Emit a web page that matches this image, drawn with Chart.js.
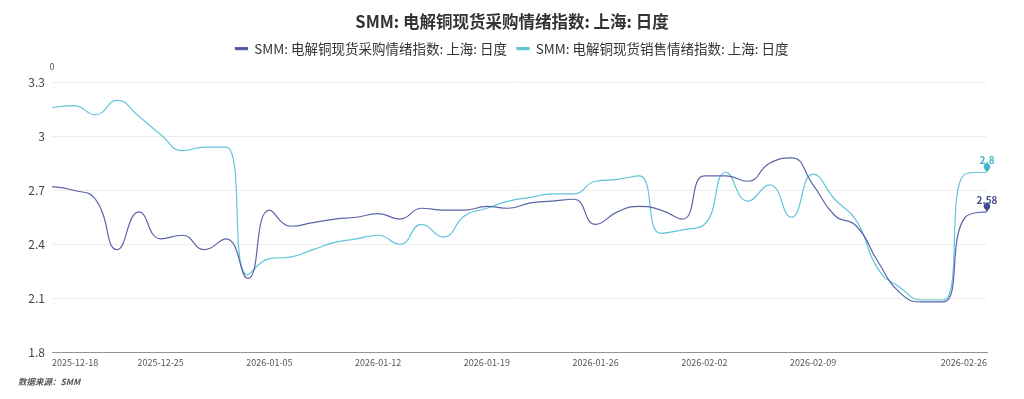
<!DOCTYPE html>
<html>
<head>
<meta charset="utf-8">
<script src="https://cdn.jsdelivr.net/npm/chart.js@4.4.1/dist/chart.umd.min.js"></script>
<style>
  html, body { margin: 0; padding: 0; background: #ffffff; }
  #wrap { width: 1024px; height: 399px; position: relative; }
</style>
</head>
<body>
<div id="wrap"><canvas id="c" width="1024" height="399"></canvas></div>
<script>
const titleText = 'SMM: 电解铜现货采购情绪指数: 上海: 日度';
const seriesNames = ['SMM: 电解铜现货采购情绪指数: 上海: 日度', 'SMM: 电解铜现货销售情绪指数: 上海: 日度'];
const sourceText = '数据来源：SMM';
const yAxisName = '0';

const categories = ['2025-12-18','2025-12-19','2025-12-22','2025-12-23','2025-12-24','2025-12-25','2025-12-26','2025-12-29','2025-12-30','2025-12-31',
  '2026-01-05','2026-01-06','2026-01-07','2026-01-08','2026-01-09','2026-01-12','2026-01-13','2026-01-14','2026-01-15','2026-01-16',
  '2026-01-19','2026-01-20','2026-01-21','2026-01-22','2026-01-23','2026-01-26','2026-01-27','2026-01-28','2026-01-29','2026-01-30',
  '2026-02-02','2026-02-03','2026-02-04','2026-02-05','2026-02-06','2026-02-09','2026-02-10','2026-02-11','2026-02-12','2026-02-13',
  '2026-02-14','2026-02-24','2026-02-25','2026-02-26'];

const purchase = [2.72,2.70,2.65,2.37,2.58,2.43,2.45,2.37,2.43,2.21,
  2.59,2.50,2.52,2.54,2.55,2.57,2.54,2.60,2.59,2.59,
  2.61,2.60,2.63,2.64,2.65,2.51,2.58,2.61,2.59,2.54,
  2.78,2.78,2.75,2.85,2.88,2.73,2.56,2.50,2.30,2.13,
  2.08,2.08,2.55,2.58];

const sales = [3.16,3.17,3.12,3.20,3.11,3.01,2.92,2.94,2.94,2.23,
  2.32,2.33,2.37,2.41,2.43,2.45,2.40,2.51,2.44,2.56,
  2.60,2.64,2.66,2.68,2.68,2.75,2.76,2.78,2.46,2.48,
  2.51,2.80,2.64,2.73,2.55,2.79,2.65,2.53,2.26,2.16,
  2.09,2.09,2.79,2.80];

const shownTickIndexes = [0,5,10,15,20,25,30,35,43];
const yTicks = [1.8, 2.1, 2.4, 2.7, 3.0, 3.3];

const purchaseColor = '#5d64aa';
const salesColor = '#62c5da';
const purchasePinColor = '#414c92';
const salesPinColor = '#3fb4cc';

const FONT = '"Noto Sans CJK SC", "Noto Sans", sans-serif';
const SMOOTH = 0.5;

function clamp(v, a, b) { return Math.min(Math.max(v, Math.min(a, b)), Math.max(a, b)); }

const extrasPlugin = {
  id: 'extras',
  beforeInit(chart) {
    const lg = chart.legend;
    if (lg) {
      const origFit = lg.fit;
      lg.fit = function () { origFit.call(this); this.height += 17; };
    }
  },
  beforeDatasetDraw(chart, args) {
    // smoothing with control points constrained between neighbours (no overshoot)
    const meta = args.meta;
    const line = meta.dataset;
    if (!line) return;
    line.updateControlPoints(chart.chartArea, 'x');
    const pts = meta.data;
    const n = pts.length;
    for (let i = 0; i < n; i++) {
      const p = pts[i];
      const x = p.x, y = p.y;
      if (i === 0 || i === n - 1) {
        p.cp1x = x; p.cp1y = y; p.cp2x = x; p.cp2y = y;
        continue;
      }
      const pr = pts[i - 1], nx = pts[i + 1];
      let vx = nx.x - pr.x, vy = nx.y - pr.y;
      const lenPrev = Math.hypot(x - pr.x, y - pr.y);
      const lenNext = Math.hypot(nx.x - x, nx.y - y);
      if (lenPrev < 1e-6 || lenNext < 1e-6) {
        p.cp1x = x; p.cp1y = y; p.cp2x = x; p.cp2y = y;
        continue;
      }
      const ratioNext = lenNext / (lenNext + lenPrev);
      let ncx = x + vx * SMOOTH * ratioNext;
      let ncy = y + vy * SMOOTH * ratioNext;
      ncx = clamp(ncx, x, nx.x);
      ncy = clamp(ncy, y, nx.y);
      vx = ncx - x; vy = ncy - y;
      let c1x = x - vx * lenPrev / lenNext;
      let c1y = y - vy * lenPrev / lenNext;
      c1x = clamp(c1x, pr.x, x);
      c1y = clamp(c1y, pr.y, y);
      vx = x - c1x; vy = y - c1y;
      ncx = x + vx * lenNext / lenPrev;
      ncy = y + vy * lenNext / lenPrev;
      p.cp1x = c1x; p.cp1y = c1y;
      p.cp2x = ncx; p.cp2y = ncy;
    }
    delete line._path;
  },
  afterDatasetsDraw(chart) {
    const ctx = chart.ctx;
    const area = chart.chartArea;
    ctx.save();
    const cfgs = [
      { ds: 0, pin: purchasePinColor, data: purchase },
      { ds: 1, pin: salesPinColor, data: sales }
    ];
    cfgs.forEach(c => {
      const meta = chart.getDatasetMeta(c.ds);
      const last = meta.data[meta.data.length - 1];
      const x = last.x, y = last.y;
      const cy = y - 5.5;
      ctx.fillStyle = c.pin;
      ctx.beginPath();
      ctx.arc(x, cy, 3.3, Math.PI * 0.8, Math.PI * 2.2);
      ctx.lineTo(x, y);
      ctx.closePath();
      ctx.fill();
      ctx.font = 'bold 10px ' + FONT;
      ctx.fillStyle = c.pin;
      ctx.textAlign = 'center';
      ctx.textBaseline = 'middle';
      const v = c.data[c.data.length - 1];
      ctx.fillText(String(v), x, y - 12);
    });
    ctx.font = '9px ' + FONT;
    ctx.fillStyle = '#555';
    ctx.textAlign = 'center';
    ctx.textBaseline = 'middle';
    ctx.fillText(yAxisName, area.left, 67);
    ctx.font = 'italic bold 8.5px ' + FONT;
    ctx.fillStyle = '#555';
    ctx.textAlign = 'left';
    ctx.textBaseline = 'middle';
    ctx.fillText(sourceText, 18, 382);
    ctx.restore();
  }
};

new Chart(document.getElementById('c'), {
  type: 'line',
  data: {
    labels: categories,
    datasets: [
      { label: seriesNames[0], data: purchase, borderColor: purchaseColor, backgroundColor: purchasePinColor,
        borderWidth: 1.2, pointRadius: 0, pointHoverRadius: 0, tension: 0.4, fill: false, yAxisID: 'y' },
      { label: seriesNames[1], data: sales, borderColor: salesColor, backgroundColor: salesColor,
        borderWidth: 1.2, pointRadius: 0, pointHoverRadius: 0, tension: 0.4, fill: false, yAxisID: 'y' }
    ]
  },
  options: {
    responsive: false,
    animation: false,
    layout: { padding: { left: 0, right: 0, top: 0, bottom: 26 } },
    plugins: {
      tooltip: { enabled: false },
      title: {
        display: true, text: titleText, color: '#333333',
        font: { family: FONT, size: 16.5, weight: 'bold' },
        padding: { top: 12, bottom: 0 }
      },
      legend: {
        display: true, position: 'top',
        labels: {
          color: '#333333', font: { family: FONT, size: 13.5 },
          boxWidth: 12, boxHeight: 2, padding: 10
        }
      }
    },
    scales: {
      x: {
        type: 'category',
        offset: false,
        grid: { display: false, drawTicks: false },
        border: { display: true, color: '#8f949c', width: 1 },
        ticks: {
          autoSkip: false, maxRotation: 0, minRotation: 0, align: 'inner', padding: 5,
          color: '#555555', font: { family: FONT, size: 9 },
          callback: function (value, index) {
            return shownTickIndexes.includes(index) ? categories[index] : '';
          }
        }
      },
      y: {
        position: 'left',
        min: yTicks[0], max: yTicks[yTicks.length - 1],
        afterFit: s => { s.width = 52; },
        afterBuildTicks: s => { s.ticks = yTicks.map(v => ({ value: v })); },
        grid: { color: '#eeeeee', lineWidth: 1, drawTicks: false },
        border: { display: false },
        ticks: {
          padding: 7, color: '#444444', font: { family: FONT, size: 12 },
          callback: v => String(Number(Number(v).toFixed(2)))
        }
      },
      yRight: {
        position: 'right',
        min: yTicks[0], max: yTicks[yTicks.length - 1],
        afterFit: s => { s.width = 37; },
        grid: { display: false, drawTicks: false },
        border: { display: false },
        ticks: { display: false }
      }
    }
  },
  plugins: [extrasPlugin]
});
</script>
</body>
</html>
